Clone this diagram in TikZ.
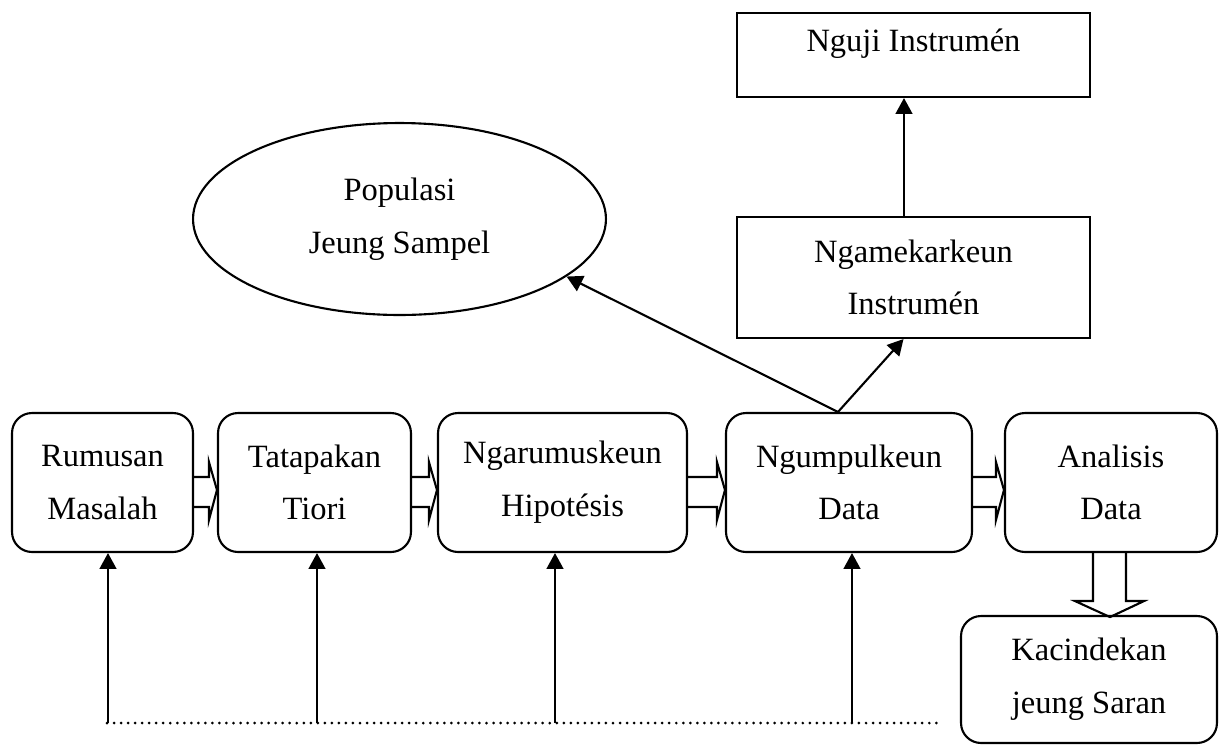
\documentclass[tikz,border=0pt]{standalone}
\usepackage{fontspec}
\setmainfont{Liberation Serif}
\usetikzlibrary{arrows.meta,calc,shapes.geometric}
\tikzset{>={Triangle[length=9pt,width=9.5pt]}}

\begin{document}
\begin{tikzpicture}[x=0.02cm,y=-0.02cm,line width=1.2pt,
    font=\fontsize{18.5pt}{30pt}\selectfont,
    box/.style={draw,rounded corners=0.4cm,align=center,minimum height=2.78cm},
    plain/.style={draw,align=center,minimum width=7.06cm}]
    \useasboundingbox (0,0) rectangle (1225,745);
    \node[box,minimum width=3.62cm] (rumusan) at (102.5,482.5) {Rumusan\\Masalah};
    \node[box,minimum width=3.86cm] (tatapakan) at (314.5,482.5) {Tatapakan\\Tiori};
    \node[box,minimum width=4.98cm] (hipotesis) at (562.5,482.5) {Ngarumuskeun\\Hipotésis};
    \node[box,minimum width=4.92cm] (ngumpulkeun) at (849,482.5) {Ngumpulkeun\\Data};
    \node[box,minimum width=4.24cm] (analisis) at (1111,482.5) {Analisis\\Data};
    \node[box,minimum width=5.12cm,minimum height=2.54cm] (kacindekan) at (1089,679.5) {Kacindekan\\jeung Saran};
    \node[plain,minimum height=1.68cm,text height=13pt,text depth=17pt] (nguji) at (913.5,55) {Nguji Instrumén};
    \node[plain,minimum height=2.42cm] (ngamekarkeun) at (913.5,277.5) {Ngamekarkeun\\Instrumén};
    \node[draw,ellipse,minimum width=8.26cm,minimum height=3.84cm,align=center] (populasi) at (399.5,219) {Populasi\\Jeung Sampel};
    \foreach \a/\b in {rumusan/tatapakan,tatapakan/hipotesis,hipotesis/ngumpulkeun,ngumpulkeun/analisis}
        \draw ($(\a.east)+(0,-5.5)$) -- ($(\b.west)+(-8,-5.5)$) -- ($(\b.west)+(-8,-20.5)$)
            -- ($(\b.west)+(0,7.5)$) -- ($(\b.west)+(-8,37.5)$) -- ($(\b.west)+(-8,24.5)$)
            -- ($(\a.east)+(0,24.5)$);
    \draw ($(analisis.south)+(-18,0)$) -- ++(0,48) -- ++(-18,0) -- ++(35,16)
        -- ++(34,-16) -- ++(-18,0) -- ++(0,-48);
    \coordinate (fork) at ($(ngumpulkeun.north)+(-11,0)$);
    \draw[->] (fork) -- (populasi.-19);
    \draw[->] (fork) -- ($(ngamekarkeun.south)+(-10,0)$);
    \draw[->] ($(ngamekarkeun.north)+(-9.5,0)$) -- ($(nguji.south)+(-9.5,0)$);
    \coordinate (dl) at (107,723);
    \coordinate (dr) at (943,723);
    \draw[line cap=round,dash pattern=on 0pt off 4pt,line width=1.7pt] (dl) -- (dr);
    \foreach \n/\x in {rumusan/108,tatapakan/317,hipotesis/555,ngumpulkeun/852}{
        \coordinate (f\n) at (\x,723);
        \draw[->] (f\n) -- (f\n |- \n.south);
    }
\end{tikzpicture}
\end{document}
